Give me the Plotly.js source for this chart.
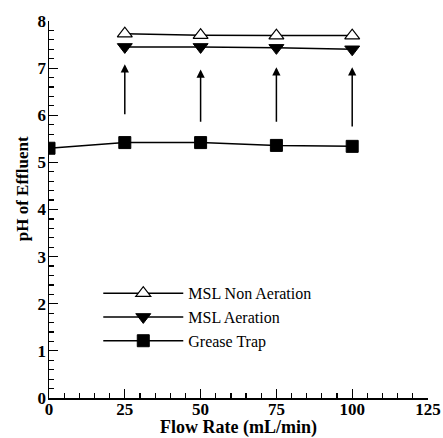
<!DOCTYPE html>
<html>
<head>
<meta charset="utf-8">
<script src="https://cdn.plot.ly/plotly-3.0.1.min.js"></script>
<style>html,body{margin:0;padding:0;background:#fff;}#chart{width:443px;height:438px;}</style>
</head>
<body>
<div id="chart"></div>
<script>
// Data
var flowNonAer = [25, 50, 75, 100];
var phNonAer = [7.73, 7.70, 7.69, 7.69];
var flowAer = [25, 50, 75, 100];
var phAer = [7.45, 7.45, 7.43, 7.40];
var flowTrap = [0, 25, 50, 75, 100];
var phTrap = [5.30, 5.42, 5.42, 5.36, 5.34];
// Arrows (tail -> head) showing pH increase
var arrowX = [25, 50, 75, 100];
var arrowTail = [5.99, 5.83, 5.83, 5.73];
var arrowHead = [7.08, 6.97, 7.02, 7.02];
var xTicks = [0, 25, 50, 75, 100, 125];
var yTicks = [0, 1, 2, 3, 4, 5, 6, 7, 8];

var serif = 'Liberation Serif';

var traces = [
  {x: flowNonAer, y: phNonAer, name: 'MSL Non Aeration', mode: 'lines+markers',
   line: {color: '#000', width: 1.5},
   marker: {symbol: 'triangle-up', size: 13, color: '#fff', line: {color: '#000', width: 1.2}}},
  {x: flowAer, y: phAer, name: 'MSL Aeration', mode: 'lines+markers',
   line: {color: '#000', width: 1.5},
   marker: {symbol: 'triangle-down', size: 13, color: '#000', line: {color: '#000', width: 1}}},
  {x: flowTrap, y: phTrap, name: 'Grease Trap', mode: 'lines+markers',
   line: {color: '#000', width: 1.5},
   marker: {symbol: 'square', size: 12, color: '#000', line: {color: '#000', width: 1}}}
];

var annotations = arrowX.map(function (xv, i) {
  return {x: xv, y: arrowHead[i], ax: xv, ay: arrowTail[i], xref: 'x', yref: 'y',
          axref: 'x', ayref: 'y', showarrow: true, arrowhead: 2, arrowsize: 1.1,
          arrowwidth: 1.5, arrowcolor: '#000', text: ''};
});
annotations.push({text: 'pH of Effluent', xref: 'paper', yref: 'paper', x: -0.07, y: 0.555,
  xanchor: 'center', yanchor: 'middle', textangle: -90, showarrow: false,
  font: {family: serif, size: 17, color: '#000', weight: 'bold'}});

var layout = {
  width: 443, height: 438,
  margin: {l: 49, r: 15, t: 21, b: 40},
  paper_bgcolor: '#fff', plot_bgcolor: '#fff',
  showlegend: true,
  legend: {x: 0.13, y: 0.323, xanchor: 'left', yanchor: 'top', bgcolor: 'rgba(0,0,0,0)',
           font: {family: serif, size: 16, color: '#000'}, itemwidth: 80, tracegroupgap: 0},
  xaxis: {range: [0, 125], tickvals: xTicks, ticks: 'inside', ticklen: 9, tickwidth: 1.2,
          tickcolor: '#000', showline: true, linecolor: '#000', linewidth: 1.5, showgrid: false,
          zeroline: false, ticklabelstandoff: -5,
          minor: {dtick: 5, ticks: 'inside', ticklen: 5, tickcolor: '#000', showgrid: false},
          tickfont: {family: serif, size: 17, color: '#000', weight: 'bold'},
          title: {text: 'Flow Rate (mL/min)', standoff: 4, font: {family: serif, size: 18, color: '#000', weight: 'bold'}}},
  yaxis: {range: [0, 8], tickvals: yTicks, ticks: 'inside', ticklen: 9, tickwidth: 1.2,
          tickcolor: '#000', showline: true, linecolor: '#000', linewidth: 1.5, showgrid: false,
          zeroline: false, ticklabelstandoff: -2,
          minor: {dtick: 0.2, ticks: 'inside', ticklen: 5, tickcolor: '#000', showgrid: false},
          tickfont: {family: serif, size: 17, color: '#000', weight: 'bold'}},
  annotations: annotations
};

Plotly.newPlot('chart', traces, layout, {displayModeBar: false, staticPlot: true});
</script>
</body>
</html>
